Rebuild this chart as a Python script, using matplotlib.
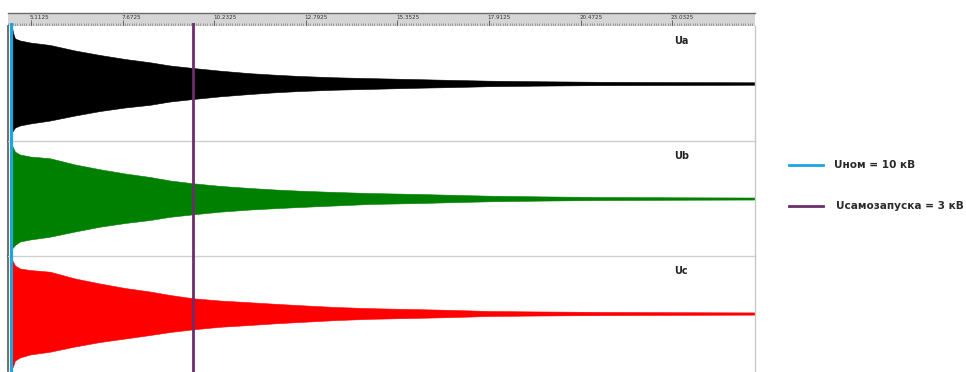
import numpy as np
import matplotlib
matplotlib.use('Agg')
import matplotlib.pyplot as plt
from matplotlib.lines import Line2D

# ---------------- data (kV) ----------------
t_env = [4.581, 4.609, 4.665, 4.805, 5.085, 5.643, 6.342, 7.041, 7.739, 8.438,
         8.997, 9.640, 10.395, 11.233, 11.932, 12.631, 13.609, 14.587, 15.985,
         16.823, 17.941, 19.338, 21.015, 23.25, 25.35]

ua_upper = [11.0, 9.86, 8.70, 8.32, 7.93, 7.45, 6.38, 5.51, 4.74, 4.10, 3.48, 3.00, 2.48,
            1.99, 1.70, 1.45, 1.20, 1.04, 0.83, 0.70, 0.54, 0.43, 0.33, 0.27, 0.23]
ua_lower = [9.48, 9.09, 8.51, 8.12, 7.74, 7.16, 6.19, 5.32, 4.64, 4.12, 3.48, 3.00, 2.48,
            2.03, 1.70, 1.45, 1.20, 1.04, 0.81, 0.70, 0.52, 0.41, 0.31, 0.27, 0.23]
ub_upper = [10.35, 9.86, 9.05, 8.51, 8.12, 7.78, 6.58, 5.65, 4.84, 4.16, 3.48, 2.94, 2.44,
            2.03, 1.74, 1.51, 1.26, 1.06, 0.87, 0.72, 0.54, 0.41, 0.29, 0.23, 0.19]
ub_lower = [9.63, 9.48, 8.99, 8.32, 7.93, 7.39, 6.38, 5.45, 4.74, 4.16, 3.54, 3.06, 2.55,
            2.13, 1.88, 1.64, 1.35, 1.06, 0.87, 0.72, 0.54, 0.41, 0.29, 0.23, 0.19]
uc_upper = [10.35, 10.06, 9.28, 8.70, 8.41, 8.08, 6.77, 5.80, 4.93, 4.25, 3.58, 2.94, 2.51,
            2.17, 1.88, 1.61, 1.26, 1.03, 0.83, 0.70, 0.48, 0.39, 0.31, 0.25, 0.21]
uc_lower = [10.54, 10.25, 9.09, 8.51, 7.93, 7.39, 6.38, 5.51, 4.84, 4.16, 3.58, 3.06, 2.57,
            2.22, 1.90, 1.64, 1.28, 1.03, 0.83, 0.70, 0.48, 0.39, 0.31, 0.25, 0.21]

phase_names = ["Ua", "Ub", "Uc"]
phase_colors = ["#000000", "#008000", "#ff0000"]

major_ticks = [5.1125, 7.6725, 10.2325, 12.7925, 15.3525, 17.9125, 20.4725, 23.0325]
major_labels = ["5.1125", "7.6725", "10.2325", "12.7925", "15.3525", "17.9125", "20.4725", "23.0325"]

t_nom = 4.54          # Uном = 10 кВ marker
t_self = 9.65         # Uсамозапуска = 3 кВ marker
legend_labels = ["Uном = 10 кВ", "Uсамозапуска = 3 кВ"]
legend_colors = ["#1ba6e0", "#6d2c6b"]

# ---------------- layout ----------------
W, H = 966, 372
XMIN, XMAX = 4.47, 25.35
YLIM = 11.12

fig = plt.figure(figsize=(W / 100, H / 100), dpi=100)
fig.patch.set_facecolor("white")

def fy(py):
    return 1 - py / H

X0, X1 = 8, 755
left = X0 / W
width = (X1 - X0) / W

# ruler
ruler = fig.add_axes([left, fy(26), width, (26 - 13) / H])
ruler.set_facecolor("#d5d5d5")
ruler.set_xlim(XMIN, XMAX)
ruler.set_ylim(0, 1)
ruler.set_xticks([])
ruler.set_yticks([])
for s in ["left", "right", "bottom"]:
    ruler.spines[s].set_visible(False)
ruler.spines["top"].set_color("#6a6a6a")
ruler.spines["top"].set_linewidth(1.0)
minor = np.arange(major_ticks[0] - 2.56, XMAX, 2.56 / 40)
ruler.vlines(minor[minor > XMIN], 0.0, 0.22, color="#7a7a7a", lw=0.45)
ruler.vlines(major_ticks, 0.0, 0.5, color="#555555", lw=0.6)
for tk, lb in zip(major_ticks, major_labels):
    ruler.text(tk - 0.03, 0.68, lb, fontsize=4.1, color="#333333",
               ha="left", va="center", family="DejaVu Sans")

# panels
uppers = [ua_upper, ub_upper, uc_upper]
lowers = [ua_lower, ub_lower, uc_lower]
for i in range(3):
    top_px = 26 + 115 * i
    bot_px = min(top_px + 115, 371)
    ax = fig.add_axes([left, fy(bot_px), width, (bot_px - top_px) / H])
    ax.set_xlim(XMIN, XMAX)
    ax.set_ylim(-YLIM, YLIM)
    ax.set_xticks([])
    ax.set_yticks([])
    ax.patch.set_alpha(0)
    for s in ["top", "bottom"]:
        ax.spines[s].set_visible(False)
    ax.spines["left"].set_color("#555555")
    ax.spines["left"].set_linewidth(1.2)
    ax.spines["right"].set_color("#c8c8c8")
    ax.spines["right"].set_linewidth(1.0)
    up = np.array(uppers[i])
    lo = -np.array(lowers[i])
    ax.fill_between(t_env, lo, up, color=phase_colors[i], lw=0.4,
                    edgecolor=phase_colors[i])
    ax.plot(t_env, [0] * len(t_env), color=phase_colors[i], lw=0.9)
    ax.text(23.1, YLIM - 2.9, phase_names[i], fontsize=7, fontweight="bold",
            color="#222222", ha="left", va="center")

# separators + vertical markers overlay
ov = fig.add_axes([left, 0, width, (H - 23) / H])
ov.set_xlim(XMIN, XMAX)
ov.set_ylim(H, 23)
ov.axis("off")
for ypx in (141, 256):
    ov.axhline(ypx, color="#cfcfcf", lw=1.0, zorder=1)
ov.axvline(t_nom, color=legend_colors[0], lw=2.3, zorder=3)
ov.axvline(t_self, color=legend_colors[1], lw=2.0, zorder=3)

# legend
leg_y = [165, 206]
leg_x_text = [834, 836]
for k in range(2):
    y = fy(leg_y[k])
    fig.add_artist(Line2D([789 / W, 823 / W], [y, y], color=legend_colors[k],
                          lw=2.0, transform=fig.transFigure))
    fig.text(leg_x_text[k] / W, y, legend_labels[k], fontsize=7.6,
             fontweight="bold", color="#2a2a2a", ha="left", va="center")

fig.savefig("out.png", dpi=100, facecolor="white")
